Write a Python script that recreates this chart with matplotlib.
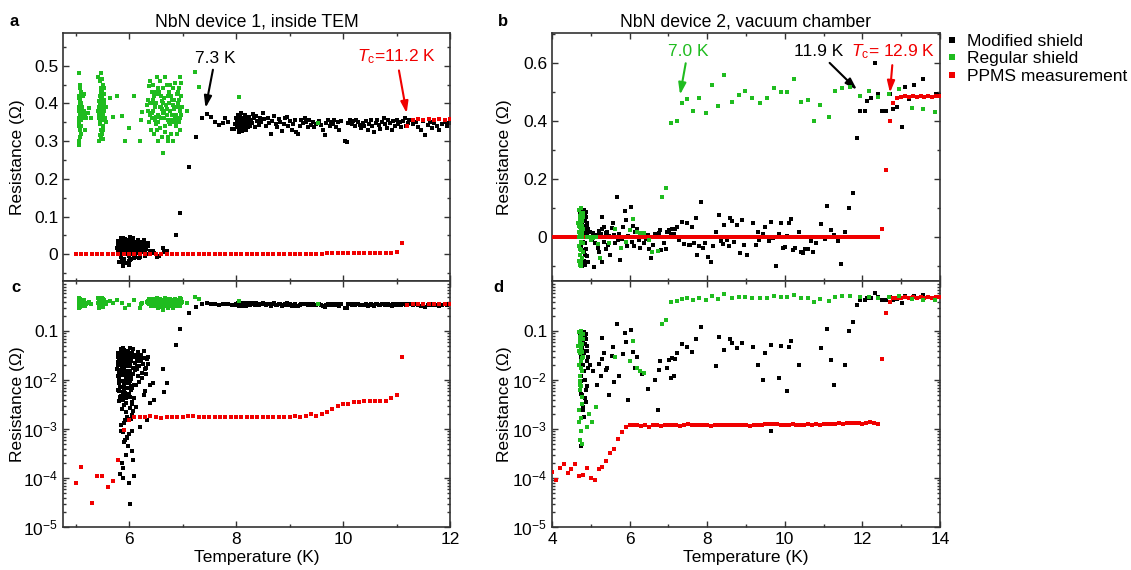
import numpy as np
import matplotlib
matplotlib.use("Agg")
import matplotlib.pyplot as plt
from matplotlib.lines import Line2D
from matplotlib.ticker import MultipleLocator, LogLocator, NullFormatter

plt.rcParams['font.family'] = ['Liberation Sans', 'DejaVu Sans']
plt.rcParams['mathtext.fontset'] = 'custom'
plt.rcParams['mathtext.rm'] = 'Liberation Sans'
plt.rcParams['mathtext.it'] = 'Liberation Sans:italic'

BLACK = '#000000'
GREEN = '#1fbc1f'
RED = '#f00000'

# ---------------- device 1 (inside TEM), (T [K], R [Ohm]) ----------------
dev1_modified = [
    # superconducting cluster near 6 K
    (5.80, 0.012), (5.82, 0.025), (5.85, -0.008), (5.83, 0.031), (5.88, 0.004), (5.90, 0.018), (5.86, -0.015), (5.92, 0.009), (5.95, 0.027), (5.93, 0.0006),
    (5.97, 0.015), (6.00, -0.004), (5.98, 0.038), (6.02, 0.021), (6.05, 0.007), (6.03, -0.012), (6.08, 0.013), (6.10, 0.029), (6.07, 0.0023), (6.12, 0.016),
    (6.15, 0.024), (6.13, 0.008), (6.18, 0.019), (6.20, -0.006), (6.22, 0.032), (6.25, 0.011), (6.28, 0.005), (6.30, 0.017), (6.33, 0.027), (6.35, 0.021),
    (5.79, 0.035), (5.81, -0.021), (5.84, 0.0012), (5.87, 0.022), (5.89, -0.027), (5.91, 0.041), (5.94, 0.0003), (5.96, 0.014), (5.99, -0.018), (6.01, 0.045),
    (6.04, 0.028), (6.06, 0.0009), (6.09, -0.010), (6.11, 0.033), (6.14, 0.019), (6.16, 0.038), (6.19, 0.009), (6.21, 0.026), (6.24, 0.014), (6.27, 0.039),
    (5.82, 0.006), (5.84, 0.042), (5.86, 0.019), (5.88, -0.031), (5.90, 0.028), (5.92, 0.0015), (5.94, 0.036), (5.96, -0.024), (5.98, 0.011), (6.00, 0.0008),
    (6.02, -0.016), (6.04, 0.024), (6.06, 0.0035), (6.08, 0.043), (6.10, 0.008), (6.12, -0.007), (6.14, 0.026), (6.17, 0.012), (6.23, 0.030), (6.29, 0.006),
    (5.83, 0.00012), (5.85, 0.016), (5.87, 0.030), (5.89, 0.00016), (5.91, -0.013), (5.93, 0.023), (5.95, 0.005), (5.97, 0.039), (5.99, -0.029), (6.01, 0.0045),
    (5.80, 0.020), (5.86, 0.0002), (5.88, 0.044), (5.90, 0.013), (5.92, 0.0055), (5.94, 0.030), (5.97, 0.019), (6.00, 0.000078), (6.03, 0.025), (6.05, 0.00035),
    (6.07, 0.00023), (6.09, 0.00011), (6.11, 0.022), (6.13, 0.0028), (6.15, 0.017), (6.18, -0.009), (6.20, 0.0011), (6.26, 0.021), (6.31, 0.013), (6.34, 0.0015),
    (5.84, 0.027), (5.86, -0.019), (5.88, 0.0045), (5.91, 0.00055), (5.93, 0.034), (5.95, 0.010), (5.98, 0.00044), (6.01, 0.000029), (6.02, 0.015), (6.04, 0.0075),
    (5.81, 0.0085), (5.83, 0.033), (5.87, 0.0026), (5.89, 0.0001), (5.92, -0.022), (5.96, 0.0018), (5.99, 0.028), (6.03, 0.012), (6.06, 0.0032), (6.08, 0.018),
    (5.85, 0.013), (5.90, 0.0065), (5.94, 0.020), (5.97, 0.00065), (6.00, 0.026), (6.02, 0.0095), (6.05, 0.035), (6.10, 0.0042), (6.16, 0.031), (6.22, 0.025),
    (6.25, 0.011), (6.28, 0.028), (6.30, -0.004), (6.32, 0.018), (6.36, 0.030), (6.39, 0.0034), (6.40, 0.008),
    (5.78, 0.017), (5.79, 0.0062), (5.80, 0.029), (5.81, 0.0038), (5.82, 0.014), (5.83, 0.0072), (5.84, 0.021), (5.85, 0.0048), (5.86, 0.036), (5.87, 0.0095),
    (5.88, 0.016), (5.89, 0.0058), (5.90, 0.024), (5.91, 0.0031), (5.92, 0.040), (5.93, 0.0085), (5.94, 0.0115), (5.95, 0.0042), (5.96, 0.031), (5.97, 0.0068),
    (5.98, 0.019), (5.99, 0.0052), (6.00, 0.0135), (6.01, 0.0027), (6.02, 0.033), (6.03, 0.0062), (6.04, 0.0105), (6.05, 0.0019), (5.79, 0.023), (5.81, 0.0105),
    (5.83, 0.0045), (5.85, 0.026), (5.87, 0.0125), (5.89, 0.038), (5.91, 0.0078), (5.93, 0.015), (5.95, 0.0034), (5.97, 0.0235), (5.99, 0.0088), (6.01, 0.0195),
    (5.84, 0.0009), (5.90, 0.0013), (5.96, 0.0007), (6.03, 0.0016), (5.88, 0.00085), (5.94, 0.0022),
    # transition
    (6.45, 0.0085), (6.47, 0.004), (6.52, -0.006), (6.56, -0.004), (6.63, 0.017), (6.65, 0.0057), (6.70, 0.0088),
    (6.87, 0.051), (6.96, 0.110), (7.12, 0.232), (7.26, 0.312), (7.36, 0.360), (7.46, 0.371), (7.53, 0.364),
    (7.60, 0.350), (7.68, 0.343), (7.76, 0.349), (7.80, 0.361), (7.85, 0.350), (7.92, 0.333),
    # normal state
    (7.96, 0.333), (7.98, 0.345), (8.00, 0.360), (8.01, 0.338), (8.02, 0.352), (8.03, 0.370), (8.04, 0.344), (8.05, 0.328), (8.06, 0.357), (8.07, 0.366),
    (8.08, 0.340), (8.09, 0.350), (8.10, 0.375), (8.11, 0.332), (8.12, 0.358), (8.13, 0.345), (8.14, 0.362), (8.15, 0.338), (8.16, 0.350), (8.17, 0.368),
    (8.18, 0.330), (8.19, 0.355), (8.20, 0.342), (8.21, 0.360), (8.22, 0.337), (8.23, 0.352), (8.24, 0.344), (8.25, 0.365), (8.26, 0.340), (8.28, 0.356),
    (8.01, 0.350), (8.03, 0.355), (8.05, 0.342), (8.07, 0.348), (8.09, 0.336), (8.11, 0.354), (8.13, 0.350), (8.15, 0.346), (8.17, 0.343), (8.19, 0.340),
    (8.30, 0.348), (8.32, 0.372), (8.34, 0.360), (8.36, 0.338), (8.38, 0.366), (8.40, 0.353), (8.42, 0.342), (8.44, 0.360), (8.06, 0.324), (8.12, 0.327),
    (8.47, 0.350), (8.50, 0.375), (8.53, 0.358), (8.56, 0.340), (8.59, 0.362), (8.62, 0.348), (8.65, 0.320), (8.68, 0.353), (8.71, 0.366), (8.74, 0.344),
    (8.77, 0.337), (8.80, 0.358), (8.83, 0.350), (8.86, 0.328), (8.89, 0.345), (8.92, 0.360), (8.95, 0.365), (8.98, 0.340), (9.01, 0.352), (9.04, 0.330),
    (9.07, 0.346), (9.10, 0.356), (9.13, 0.323), (9.16, 0.318), (9.19, 0.340), (9.22, 0.355), (9.25, 0.348), (9.28, 0.360), (9.31, 0.350), (9.34, 0.337),
    (9.37, 0.355), (9.40, 0.343), (9.43, 0.350), (9.46, 0.338), (9.49, 0.345), (9.56, 0.352), (9.59, 0.342), (9.62, 0.330), (9.66, 0.316), (9.69, 0.347),
    (9.72, 0.355), (9.75, 0.340), (9.78, 0.350), (9.81, 0.345), (9.84, 0.356), (9.87, 0.338), (9.90, 0.350), (9.93, 0.330), (9.96, 0.353), (10.04, 0.301),
    (10.07, 0.298), (10.10, 0.348), (10.13, 0.356), (10.16, 0.345), (10.19, 0.352), (10.22, 0.340), (10.25, 0.357), (10.28, 0.350), (10.31, 0.343), (10.34, 0.336),
    (10.37, 0.347), (10.40, 0.340), (10.43, 0.352), (10.46, 0.330), (10.49, 0.345), (10.52, 0.356), (10.55, 0.340), (10.58, 0.325), (10.61, 0.348), (10.64, 0.355),
    (10.67, 0.342), (10.70, 0.332), (10.73, 0.350), (10.76, 0.360), (10.79, 0.344), (10.82, 0.336), (10.85, 0.356), (10.88, 0.347), (10.91, 0.330), (10.94, 0.352),
    (10.97, 0.340), (11.00, 0.355), (11.03, 0.345), (11.06, 0.350), (11.09, 0.338), (11.12, 0.352), (11.15, 0.360), (11.18, 0.340), (11.21, 0.348), (11.24, 0.356),
    (11.30, 0.345), (11.36, 0.350), (11.40, 0.338), (11.45, 0.330), (11.50, 0.352), (11.54, 0.316), (11.58, 0.342), (11.62, 0.350), (11.66, 0.335), (11.70, 0.347),
    (11.75, 0.340), (11.80, 0.330), (11.85, 0.345), (11.90, 0.350), (11.95, 0.340), (11.98, 0.348),
]

dev1_regular = [
    (5.06, 0.480), (5.07, 0.290), (5.08, 0.400), (5.06, 0.350), (5.09, 0.370), (5.07, 0.420), (5.08, 0.310), (5.10, 0.380), (5.06, 0.390), (5.09, 0.330),
    (5.07, 0.360), (5.11, 0.430), (5.08, 0.450), (5.10, 0.340), (5.06, 0.300), (5.12, 0.390), (5.09, 0.410), (5.07, 0.380), (5.13, 0.370), (5.08, 0.360),
    (5.11, 0.400), (5.10, 0.320), (5.14, 0.380), (5.12, 0.360), (5.15, 0.425), (5.13, 0.420), (5.16, 0.380), (5.07, 0.340), (5.09, 0.440), (5.06, 0.415),
    (5.08, 0.385), (5.11, 0.355), (5.18, 0.370), (5.20, 0.360), (5.23, 0.375), (5.26, 0.387), (5.29, 0.360), (5.17, 0.330),
    (5.42, 0.470), (5.44, 0.300), (5.43, 0.390), (5.45, 0.420), (5.46, 0.350), (5.47, 0.440), (5.44, 0.370), (5.48, 0.330), (5.45, 0.400), (5.49, 0.380),
    (5.46, 0.460), (5.50, 0.360), (5.47, 0.310), (5.48, 0.410), (5.51, 0.390), (5.46, 0.345), (5.49, 0.430), (5.50, 0.320), (5.52, 0.370), (5.47, 0.385),
    (5.48, 0.355), (5.53, 0.410), (5.51, 0.450), (5.45, 0.365), (5.49, 0.400), (5.52, 0.340), (5.50, 0.420), (5.54, 0.380), (5.47, 0.480), (5.51, 0.305),
    (5.55, 0.360), (5.48, 0.390), (5.53, 0.440), (5.46, 0.395), (5.50, 0.375), (5.56, 0.350), (5.44, 0.405), (5.52, 0.330), (5.49, 0.355), (5.43, 0.360),
    (5.41, 0.380), (5.54, 0.425), (5.57, 0.390), (5.48, 0.430), (5.50, 0.465), (5.45, 0.315), (5.51, 0.370), (5.53, 0.400),
    (5.65, 0.415), (5.70, 0.365), (5.77, 0.420), (5.87, 0.366), (5.92, 0.300), (6.00, 0.336), (6.09, 0.420), (6.23, 0.357), (6.25, 0.378), (6.21, 0.300),
    (6.36, 0.410), (6.40, 0.370), (6.44, 0.450), (6.48, 0.390), (6.52, 0.330), (6.56, 0.430), (6.60, 0.360), (6.64, 0.400), (6.68, 0.340), (6.72, 0.420),
    (6.76, 0.380), (6.80, 0.350), (6.84, 0.410), (6.88, 0.370), (6.92, 0.430), (6.96, 0.330), (6.99, 0.390), (6.38, 0.350), (6.42, 0.430), (6.46, 0.320),
    (6.50, 0.400), (6.54, 0.370), (6.58, 0.460), (6.62, 0.310), (6.66, 0.380), (6.70, 0.450), (6.74, 0.350), (6.78, 0.420), (6.82, 0.300), (6.86, 0.390),
    (6.90, 0.360), (6.94, 0.410), (6.98, 0.370), (6.35, 0.380), (6.39, 0.400), (6.43, 0.360), (6.47, 0.420), (6.51, 0.365), (6.55, 0.350), (6.59, 0.390),
    (6.63, 0.440), (6.67, 0.325), (6.71, 0.385), (6.75, 0.400), (6.79, 0.355), (6.83, 0.440), (6.87, 0.340), (6.91, 0.400), (6.95, 0.380), (6.97, 0.420),
    (6.37, 0.445), (6.41, 0.330), (6.45, 0.380), (6.49, 0.355), (6.53, 0.425), (6.57, 0.390), (6.61, 0.405), (6.65, 0.360), (6.69, 0.395), (6.73, 0.310),
    (6.77, 0.450), (6.81, 0.370), (6.85, 0.360), (6.89, 0.425), (6.93, 0.350), (6.34, 0.395), (6.44, 0.410), (6.54, 0.440), (6.64, 0.375), (6.74, 0.430),
    (6.84, 0.385), (6.94, 0.440), (6.40, 0.460), (6.50, 0.345), (6.60, 0.420), (6.70, 0.370), (6.80, 0.410), (6.90, 0.320), (6.46, 0.400), (6.56, 0.365),
    (6.66, 0.415), (6.76, 0.345), (6.86, 0.455), (6.96, 0.360), (6.42, 0.375), (6.52, 0.470), (6.62, 0.385), (6.72, 0.355), (6.82, 0.395), (6.92, 0.390),
    (6.48, 0.430), (6.58, 0.335), (6.68, 0.470), (6.78, 0.320), (6.88, 0.350), (6.63, 0.268), (6.73, 0.300), (6.55, 0.300), (6.96, 0.470), (6.97, 0.455),
    (7.09, 0.380), (7.24, 0.484), (7.31, 0.443), (8.05, 0.416), (9.53, 0.349),
]

dev1_ppms = [
    (5.0, 8.0e-5), (5.1, 1.7e-4), (5.2, -6e-5), (5.3, 3.1e-5), (5.4, 1.1e-4), (5.5, 1.1e-4), (5.6, 6.5e-5), (5.7, 8.7e-5), (5.8, 2.3e-4), (5.9, 9.6e-4),
    (6.0, 1.5e-3), (6.1, 1.74e-3), (6.2, 1.72e-3), (6.3, 1.75e-3), (6.4, 1.82e-3), (6.5, 1.78e-3), (6.6, 1.68e-3), (6.7, 1.74e-3), (6.8, 1.80e-3), (6.9, 1.72e-3),
    (7.0, 1.76e-3), (7.1, 1.82e-3), (7.2, 1.84e-3), (7.3, 1.76e-3), (7.4, 1.78e-3), (7.5, 1.74e-3), (7.6, 1.77e-3), (7.7, 1.78e-3), (7.8, 1.76e-3), (7.9, 1.75e-3),
    (8.0, 1.77e-3), (8.1, 1.74e-3), (8.2, 1.76e-3), (8.3, 1.79e-3), (8.4, 1.78e-3), (8.5, 1.77e-3), (8.6, 1.80e-3), (8.7, 1.76e-3), (8.8, 1.72e-3), (8.9, 1.78e-3),
    (9.0, 1.74e-3), (9.1, 1.82e-3), (9.2, 1.79e-3), (9.3, 1.84e-3), (9.4, 2.0e-3), (9.5, 1.88e-3), (9.6, 2.05e-3), (9.7, 2.2e-3), (9.8, 2.6e-3), (9.9, 3.0e-3),
    (10.0, 3.3e-3), (10.1, 3.3e-3), (10.2, 3.5e-3), (10.3, 3.55e-3), (10.4, 3.8e-3), (10.5, 3.7e-3), (10.6, 3.65e-3), (10.7, 3.7e-3), (10.8, 3.72e-3), (10.9, 4.2e-3),
    (11.0, 4.9e-3), (11.1, 0.029), (11.2, 0.340), (11.3, 0.356), (11.4, 0.358), (11.5, 0.357), (11.6, 0.358), (11.7, 0.357), (11.8, 0.358), (11.9, 0.357), (12.0, 0.358),
]

# ---------------- device 2 (vacuum chamber) ----------------
dev2_modified = [
    (4.72, 0.085), (4.73, -0.060), (4.74, 0.00044), (4.74, 0.030), (4.75, -0.090), (4.75, 0.060), (4.76, 0.012), (4.76, -0.030), (4.77, 0.075), (4.77, -0.075),
    (4.78, 0.045), (4.78, 0.005), (4.79, -0.045), (4.79, 0.090), (4.80, 0.020), (4.80, -0.015), (4.81, 0.0028), (4.81, 0.065), (4.82, -0.080), (4.82, 0.0018),
    (4.83, 0.035), (4.83, -0.050), (4.84, 0.080), (4.84, 0.0042), (4.85, -0.020), (4.85, 0.055), (4.86, 0.010), (4.86, -0.095), (4.87, 0.070), (4.87, 0.0035),
    (4.88, -0.040), (4.88, 0.088), (4.89, 0.025), (4.89, -0.065), (4.90, 0.050), (4.90, 0.0075), (4.91, 0.040), (4.92, -0.085), (4.93, 0.030), (4.94, 0.018),
    (4.74, 0.0052), (4.76, 0.0095), (4.78, -0.100), (4.80, 0.070), (4.82, 0.015), (4.84, -0.060), (4.86, 0.040), (4.88, 0.0062), (4.79, 0.0024), (4.83, 0.095),
    (4.98, 0.020), (5.02, -0.010), (5.05, 0.015), (5.09, -0.103), (5.12, -0.020), (5.15, 0.008), (5.18, -0.035), (5.20, 0.021), (5.22, -0.050), (5.25, 0.012),
    (5.28, 0.071), (5.28, -0.086), (5.30, 0.027), (5.33, 0.035), (5.35, -0.015), (5.38, 0.016), (5.40, -0.040), (5.42, 0.018), (5.45, -0.025), (5.48, 0.005),
    (5.50, -0.060), (5.54, 0.031), (5.56, 0.048), (5.59, 0.0093), (5.62, -0.020), (5.67, 0.140), (5.70, -0.010), (5.72, 0.012), (5.75, -0.078), (5.80, -0.005),
    (5.84, 0.034), (5.87, 0.090), (5.90, 0.060), (5.93, -0.030), (5.97, 0.004), (6.03, 0.103), (6.06, -0.015), (6.09, 0.038), (6.12, -0.030), (6.15, 0.018),
    (6.20, 0.030), (6.25, -0.010), (6.28, -0.035), (6.32, 0.013), (6.36, -0.020), (6.42, -0.005), (6.47, 0.0066), (6.50, -0.040), (6.55, -0.070), (6.60, -0.025),
    (6.65, 0.010), (6.72, 0.0024), (6.75, 0.016), (6.78, 0.024), (6.82, -0.045), (6.88, -0.020), (6.93, -0.040), (6.97, 0.018), (7.02, 0.026), (7.06, 0.011),
    (7.10, 0.028), (7.14, 0.012), (7.18, 0.027), (7.22, 0.035), (7.28, -0.010), (7.35, 0.054), (7.40, -0.024), (7.47, 0.048), (7.52, -0.026), (7.56, -0.025),
    (7.61, 0.037), (7.66, -0.020), (7.70, 0.068), (7.74, -0.061), (7.80, -0.030), (7.83, 0.120), (7.90, -0.035), (7.95, -0.020), (8.02, -0.068), (8.10, -0.084),
    (8.15, -0.030), (8.22, 0.019), (8.30, 0.077), (8.35, -0.012), (8.40, -0.024), (8.44, 0.041), (8.50, -0.010), (8.56, -0.030), (8.59, 0.068), (8.65, 0.056),
    (8.70, -0.015), (8.78, 0.044), (8.84, -0.055), (8.90, 0.058), (8.96, -0.028), (9.02, -0.060), (9.17, 0.048), (9.25, -0.025), (9.30, 0.020), (9.33, -0.010),
    (9.45, 0.010), (9.50, 0.035), (9.60, -0.011), (9.64, 0.052), (9.65, 0.0009), (9.70, -0.002), (9.77, -0.098), (9.84, 0.011), (9.90, 0.050), (9.95, -0.035),
    (10.00, -0.033), (10.05, 0.006), (10.10, 0.048), (10.16, 0.063), (10.20, -0.045), (10.25, -0.035), (10.36, 0.020), (10.42, -0.050), (10.48, -0.055), (10.53, -0.040),
    (10.60, -0.040), (10.68, -0.012), (10.72, -0.050), (10.80, -0.018), (10.94, 0.046), (11.03, -0.006), (11.10, 0.108), (11.19, 0.026), (11.27, 0.008), (11.36, -0.011),
    (11.46, -0.092), (11.55, 0.020), (11.65, 0.100), (11.76, 0.152), (11.85, 0.341), (11.95, 0.433), (12.06, 0.433), (12.13, 0.468), (12.23, 0.477), (12.33, 0.598),
    (12.40, 0.494), (12.50, 0.433), (12.61, 0.433), (12.71, 0.491), (12.80, 0.440), (12.90, 0.447), (13.01, 0.380), (13.10, 0.515), (13.19, 0.475), (13.33, 0.523),
    (13.57, 0.544), (13.90, 0.494), (13.99, 0.490),
]

dev2_regular = [
    (4.68, 0.050), (4.69, -0.080), (4.69, 0.020), (4.70, 0.095), (4.70, -0.030), (4.71, 0.0006), (4.71, 0.065), (4.72, -0.060), (4.72, 0.035), (4.73, 0.008),
    (4.73, -0.095), (4.74, 0.080), (4.74, -0.015), (4.75, 0.045), (4.75, 0.0017), (4.76, -0.045), (4.76, 0.100), (4.77, 0.015), (4.77, -0.070), (4.78, 0.055),
    (4.78, 0.0045), (4.79, -0.020), (4.79, 0.030), (4.80, -0.050), (4.80, 0.070), (4.70, 0.0025), (4.72, 0.012), (4.74, -0.085), (4.76, 0.025), (4.78, 0.0005),
    (4.69, 0.040), (4.71, -0.040), (4.73, 0.060), (4.75, 0.018), (4.77, 0.0032), (4.79, 0.085), (4.71, 0.0095), (4.73, 0.0062), (4.75, -0.100), (4.77, 0.028),
    (4.70, 0.0014), (4.76, 0.0075), (4.72, 0.075), (4.74, 0.0009), (4.78, 0.038),
    (4.91, 0.0011), (4.95, 0.0020), (5.02, 0.0014), (5.13, 0.0028), (5.00, -0.010), (5.06, -0.003), (5.18, -0.024), (5.24, -0.070), (5.47, -0.021), (5.63, 0.029),
    (5.78, -0.038), (5.90, -0.015), (6.00, 0.025), (6.09, 0.062), (6.20, 0.018), (6.28, 0.015), (6.38, 0.014), (6.49, -0.009), (6.58, -0.052), (6.72, -0.047),
    (6.84, 0.139), (6.95, 0.171), (7.06, 0.393), (7.21, 0.401), (7.34, 0.460), (7.48, 0.474), (7.64, 0.435), (7.80, 0.480), (7.96, 0.428), (8.12, 0.522),
    (8.28, 0.451), (8.44, 0.558), (8.63, 0.466), (8.81, 0.490), (8.97, 0.504), (9.16, 0.478), (9.36, 0.462), (9.53, 0.477), (9.72, 0.514), (9.90, 0.499),
    (10.06, 0.499), (10.23, 0.543), (10.42, 0.466), (10.61, 0.471), (10.75, 0.400), (10.91, 0.456), (11.14, 0.414), (11.30, 0.503), (11.48, 0.514), (11.69, 0.515),
    (11.93, 0.485), (12.16, 0.503), (12.40, 0.483), (12.68, 0.494), (12.95, 0.510), (13.27, 0.446), (13.57, 0.440), (13.86, 0.431),
]

dev2_ppms = [
    (4.0, 1.3e-4), (4.1, 9.0e-5), (4.2, 1.6e-4), (4.3, 1.9e-4), (4.4, 1.25e-4), (4.5, 1.55e-4), (4.6, 1.9e-4), (4.7, 1.1e-4), (4.8, 1.15e-4), (4.9, 1.6e-4),
    (5.0, 1.0e-4), (5.1, 9.3e-5), (5.2, 1.5e-4), (5.3, 1.7e-4), (5.4, 2.2e-4), (5.5, 3.3e-4), (5.6, 4.0e-4), (5.7, 6.2e-4), (5.8, 8.5e-4), (5.9, 1.1e-3),
    (6.0, 1.20e-3), (6.1, 1.18e-3), (6.2, 1.20e-3), (6.3, 1.16e-3), (6.4, 1.22e-3), (6.5, 1.12e-3), (6.6, 1.18e-3), (6.7, 1.20e-3), (6.8, 1.17e-3), (6.9, 1.19e-3),
    (7.0, 1.21e-3), (7.1, 1.18e-3), (7.2, 1.22e-3), (7.3, 1.15e-3), (7.4, 1.20e-3), (7.5, 1.24e-3), (7.6, 1.19e-3), (7.7, 1.22e-3), (7.8, 1.20e-3), (7.9, 1.18e-3),
    (8.0, 1.20e-3), (8.1, 1.17e-3), (8.2, 1.20e-3), (8.3, 1.19e-3), (8.4, 1.18e-3), (8.5, 1.20e-3), (8.6, 1.21e-3), (8.7, 1.19e-3), (8.8, 1.20e-3), (8.9, 1.18e-3),
    (9.0, 1.20e-3), (9.1, 1.17e-3), (9.2, 1.20e-3), (9.3, 1.22e-3), (9.4, 1.20e-3), (9.5, 1.24e-3), (9.6, 1.26e-3), (9.7, 1.25e-3), (9.8, 1.27e-3), (9.9, 1.22e-3),
    (10.0, 1.23e-3), (10.1, 1.22e-3), (10.2, 1.24e-3), (10.3, 1.23e-3), (10.4, 1.21e-3), (10.5, 1.23e-3), (10.6, 1.24e-3), (10.7, 1.22e-3), (10.8, 1.25e-3), (10.9, 1.23e-3),
    (11.0, 1.26e-3), (11.1, 1.25e-3), (11.2, 1.27e-3), (11.3, 1.28e-3), (11.4, 1.30e-3), (11.5, 1.29e-3), (11.6, 1.30e-3), (11.7, 1.31e-3), (11.8, 1.30e-3), (11.9, 1.32e-3),
    (12.0, 1.28e-3), (12.1, 1.31e-3), (12.2, 1.36e-3), (12.3, 1.32e-3), (12.4, 1.28e-3), (12.5, 0.027), (12.6, 0.231), (12.7, 0.400), (12.8, 0.463), (12.9, 0.478),
    (13.0, 0.483), (13.1, 0.484), (13.2, 0.483), (13.3, 0.484), (13.4, 0.483), (13.5, 0.484), (13.6, 0.483), (13.7, 0.484), (13.8, 0.483), (13.9, 0.484), (14.0, 0.484),
]

log_ticks = [1e-5, 1e-4, 1e-3, 1e-2, 1e-1]
log_labels = ['10$^{-5}$', '10$^{-4}$', '10$^{-3}$', '10$^{-2}$', '0.1']

FS = 12.5


def draw(ax, black, green, red, log=False):
    for data, col, z, ms in ((black, BLACK, 2, 3.1), (red, RED, 3, 3.3), (green, GREEN, 4, 3.1)):
        arr = np.array(data)
        if log:
            arr = arr[arr[:, 1] > 0]
        ax.plot(arr[:, 0], arr[:, 1], 's', color=col, ms=ms, mew=0, zorder=z)


def style(ax):
    ax.tick_params(which='both', direction='in', top=True, right=True, labelsize=FS,
                   color='#333333', width=1.0)
    ax.tick_params(which='major', length=4.5)
    ax.tick_params(which='minor', length=2.5)
    for s in ax.spines.values():
        s.set_linewidth(1.2)
        s.set_color('#333333')


fig = plt.figure(figsize=(11.31, 5.70), dpi=100)
W, H = 1131, 570
ax_a = fig.add_axes([63 / W, 289 / H, 387 / W, 248 / H])
ax_c = fig.add_axes([63 / W, 43 / H, 387 / W, 246 / H])
ax_b = fig.add_axes([552 / W, 289 / H, 388 / W, 248 / H])
ax_d = fig.add_axes([552 / W, 43 / H, 388 / W, 246 / H])

draw(ax_a, dev1_modified, dev1_regular, dev1_ppms)
draw(ax_c, dev1_modified, dev1_regular, dev1_ppms, log=True)
draw(ax_b, dev2_modified, dev2_regular, dev2_ppms)
draw(ax_d, dev2_modified, dev2_regular, dev2_ppms, log=True)

for ax in (ax_a, ax_c):
    ax.set_xlim(4.765, 12)
    ax.xaxis.set_major_locator(MultipleLocator(2))
    ax.xaxis.set_minor_locator(MultipleLocator(1))
for ax in (ax_b, ax_d):
    ax.set_xlim(4, 14)
    ax.xaxis.set_major_locator(MultipleLocator(2))
    ax.xaxis.set_minor_locator(MultipleLocator(1))

ax_a.set_ylim(-0.0708, 0.5865)
ax_a.set_yticks([0, 0.1, 0.2, 0.3, 0.4, 0.5])
ax_a.set_yticklabels(['0', '0.1', '0.2', '0.3', '0.4', '0.5'])
ax_a.yaxis.set_minor_locator(MultipleLocator(0.05))

ax_b.set_ylim(-0.150, 0.702)
ax_b.set_yticks([0, 0.2, 0.4, 0.6])
ax_b.set_yticklabels(['0', '0.2', '0.4', '0.6'])
ax_b.yaxis.set_minor_locator(MultipleLocator(0.1))

for ax in (ax_c, ax_d):
    ax.set_yscale('log')
    ax.set_ylim(1e-5, 1.05)
    ax.set_yticks(log_ticks)
    ax.set_yticklabels(log_labels)
    ax.yaxis.set_minor_locator(LogLocator(base=10, subs=np.arange(2, 10)))
    ax.yaxis.set_minor_formatter(NullFormatter())
    ax.set_xlabel('Temperature (K)', fontsize=FS, labelpad=2)

for ax in (ax_a, ax_b, ax_c, ax_d):
    style(ax)
    ax.set_ylabel('Resistance (\u03a9)', fontsize=FS)
for ax in (ax_a, ax_c):
    ax.yaxis.set_label_coords(-0.098, 0.5)
for ax in (ax_b, ax_d):
    ax.yaxis.set_label_coords(-0.103, 0.5)
for ax in (ax_a, ax_b):
    ax.tick_params(labelbottom=False)

ax_a.text(0.5, 1.045, 'NbN device 1, inside TEM', transform=ax_a.transAxes,
          ha='center', va='center', fontsize=12.7)
ax_b.text(0.5, 1.045, 'NbN device 2, vacuum chamber', transform=ax_b.transAxes,
          ha='center', va='center', fontsize=12.7)

arrow_kw = dict(arrowstyle='-|>,head_length=0.55,head_width=0.18', lw=1.5, shrinkA=1, shrinkB=0)
ax_a.annotate('7.3 K', xy=(7.43, 0.388), xytext=(7.61, 0.52), ha='center', va='center',
              fontsize=FS, color=BLACK, arrowprops=dict(color=BLACK, **arrow_kw))
ax_a.annotate('$T_{\\mathrm{c}}$=11.2 K', xy=(11.19, 0.374), xytext=(11.0, 0.523),
              ha='center', va='center', fontsize=FS, color=RED,
              arrowprops=dict(color=RED, **arrow_kw))
ax_b.annotate('7.0 K', xy=(7.30, 0.49), xytext=(7.5, 0.638), ha='center', va='center',
              fontsize=FS, color=GREEN, arrowprops=dict(color=GREEN, **arrow_kw))
ax_b.annotate('11.9 K', xy=(11.86, 0.507), xytext=(10.86, 0.638), ha='center', va='center',
              fontsize=FS, color=BLACK, arrowprops=dict(color=BLACK, **arrow_kw))
ax_b.annotate('$T_{\\mathrm{c}}$= 12.9 K', xy=(12.71, 0.497), xytext=(12.8, 0.638),
              ha='center', va='center', fontsize=FS, color=RED,
              arrowprops=dict(color=RED, **arrow_kw))

for lab, x, y in (('a', 14, 22), ('b', 503, 22), ('c', 16, 287), ('d', 498, 287)):
    fig.text(x / W, 1 - y / H, lab, fontsize=12, fontweight='bold', ha='center', va='center')

handles = [Line2D([], [], marker='s', ls='none', color=c, ms=4, mew=0) for c in (BLACK, GREEN, RED)]
fig.legend(handles, ['Modified shield', 'Regular shield', 'PPMS measurement'],
           loc='upper left', bbox_to_anchor=(946 / W, 1 - 34 / H), frameon=False,
           fontsize=FS, handlelength=0.7, handletextpad=0.5, labelspacing=0.12,
           borderpad=0, borderaxespad=0)

fig.savefig('out.png', dpi=100)
